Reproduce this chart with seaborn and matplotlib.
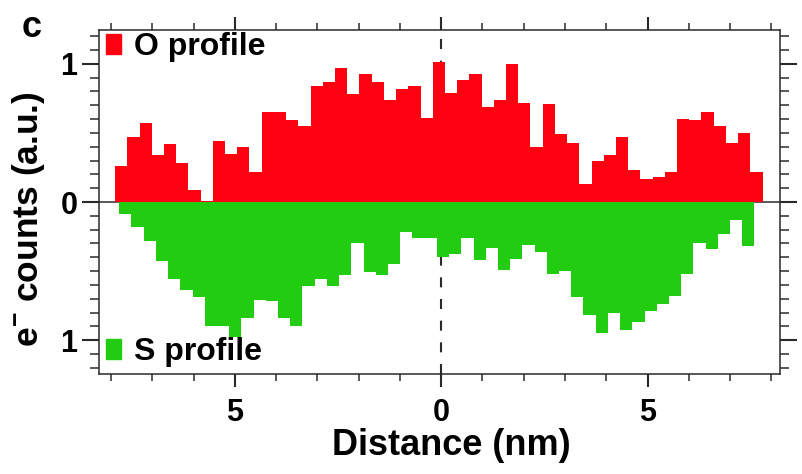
import numpy as np
import pandas as pd
import matplotlib
matplotlib.use('Agg')
import matplotlib.pyplot as plt
import seaborn as sns
from matplotlib.patches import Patch
from matplotlib.ticker import MultipleLocator

# O profile (red, above zero) - one value per bin, read left to right
o_start = -7.90
o_counts = [0.26, 0.47, 0.57, 0.34, 0.42, 0.28, 0.09, 0.01, 0.44, 0.35,
            0.40, 0.22, 0.65, 0.65, 0.59, 0.55, 0.84, 0.87, 0.97, 0.78,
            0.93, 0.87, 0.74, 0.82, 0.84, 0.61, 1.01, 0.79, 0.88, 0.93,
            0.69, 0.74, 1.00, 0.72, 0.40, 0.71, 0.49, 0.43, 0.13, 0.30,
            0.34, 0.47, 0.23, 0.17, 0.18, 0.22, 0.60, 0.59, 0.65, 0.55,
            0.43, 0.50, 0.22]
# S profile (green, drawn downwards)
s_start = -7.80
s_counts = [0.09, 0.18, 0.28, 0.43, 0.56, 0.64, 0.69, 0.90, 0.90, 0.98,
            0.84, 0.71, 0.72, 0.84, 0.90, 0.61, 0.56, 0.61, 0.53, 0.30,
            0.51, 0.53, 0.45, 0.22, 0.26, 0.26, 0.40, 0.38, 0.26, 0.42,
            0.33, 0.49, 0.41, 0.31, 0.36, 0.52, 0.50, 0.69, 0.82, 0.95,
            0.80, 0.93, 0.87, 0.79, 0.74, 0.68, 0.52, 0.30, 0.34, 0.23,
            0.13, 0.32]
bin_width = 0.296

x_ticks = [-5, 0, 5]
x_ticklabels = ['5', '0', '5']
y_ticks = [-1, 0, 1]
y_ticklabels = ['1', '0', '1']

red = '#ff0010'
green = '#22cc11'
dark = '#2a2a2a'

sns.set_style('ticks')
plt.rcParams['font.family'] = ['Liberation Sans', 'DejaVu Sans']
plt.rcParams['font.weight'] = 'bold'
plt.rcParams['text.color'] = 'black'
plt.rcParams['axes.labelcolor'] = 'black'
plt.rcParams['mathtext.fontset'] = 'custom'
plt.rcParams['mathtext.rm'] = 'Liberation Sans:bold'
plt.rcParams['mathtext.bf'] = 'Liberation Sans:bold'
plt.rcParams['mathtext.default'] = 'bf'

n_o, n_s = len(o_counts), len(s_counts)
o_df = pd.DataFrame({'distance': o_start + bin_width * (np.arange(n_o) + 0.5),
                     'counts': o_counts})
s_df = pd.DataFrame({'distance': s_start + bin_width * (np.arange(n_s) + 0.5),
                     'counts': s_counts})
s_df['counts'] = -s_df['counts']

fig = plt.figure(figsize=(8.03, 4.74), dpi=100)
ax = fig.add_axes([99 / 803, 1 - 374 / 474, 681 / 803, 344 / 474])

ax.axvline(0, color=dark, lw=1.5, dashes=(4.8, 5.6), zorder=0.5)
ax.axhline(0, color=dark, lw=1.1, zorder=0.6)

sns.histplot(data=o_df, x='distance', weights='counts', bins=n_o,
             binrange=(o_start, o_start + n_o * bin_width),
             element='step', fill=True, color=red, alpha=1, linewidth=0, ax=ax)
sns.histplot(data=s_df, x='distance', weights='counts', bins=n_s,
             binrange=(s_start, s_start + n_s * bin_width),
             element='step', fill=True, color=green, alpha=1, linewidth=0, ax=ax)

ax.set_xlim(-8.29, 8.21)
ax.set_ylim(-1.245, 1.245)

ax.set_xticks(x_ticks)
ax.set_xticklabels(x_ticklabels)
ax.set_yticks(y_ticks)
ax.set_yticklabels(y_ticklabels)
ax.xaxis.set_minor_locator(MultipleLocator(1))
ax.yaxis.set_minor_locator(MultipleLocator(0.1))

ax.tick_params(which='both', direction='out', top=True, right=True, color=dark,
               labelcolor='black')
ax.tick_params(axis='x', which='major', length=9.5, width=1.5, pad=8, labelsize=22)
ax.tick_params(axis='x', which='minor', length=4.7, width=1.1)
ax.tick_params(axis='y', which='major', length=12, width=1.5, pad=3.5, labelsize=22)
ax.tick_params(axis='y', which='minor', length=6.5, width=1.1)
for sp in ax.spines.values():
    sp.set_color(dark)
    sp.set_linewidth(1.1)

ax.set_xlabel('Distance (nm)', fontsize=26, fontweight='bold')
ax.set_ylabel('e$^{-}$ counts (a.u.)', fontsize=25.5, fontweight='bold')
ax.xaxis.set_label_coords(0.518, -0.156)
ax.yaxis.set_label_coords(-0.077, 0.45)

leg_font = dict(weight='bold', size=23)
leg1 = ax.legend(handles=[Patch(color=red, label='O profile')], loc='center left',
                 bbox_to_anchor=(0.0103, 0.9506), frameon=False, handlelength=0.48,
                 handleheight=0.6, handletextpad=0.4, borderpad=0, borderaxespad=0,
                 prop=leg_font)
ax.add_artist(leg1)
ax.legend(handles=[Patch(color=green, label='S profile')], loc='center left',
          bbox_to_anchor=(0.0103, 0.064), frameon=False, handlelength=0.48,
          handleheight=0.6, handletextpad=0.4, borderpad=0, borderaxespad=0,
          prop=leg_font)

fig.text(22 / 803, 1 - 37 / 474, 'c', fontsize=26, fontweight='bold', va='baseline')

fig.savefig('out.png', dpi=100)
